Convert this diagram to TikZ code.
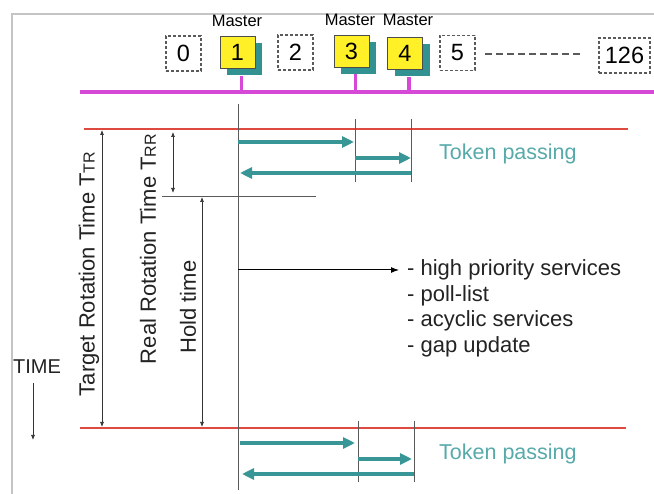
\documentclass[tikz,border=0pt]{standalone}
\usepackage{fontspec}
\setmainfont{Liberation Sans}
\usetikzlibrary{arrows.meta,shadows}
\definecolor{tokenteal}{RGB}{56,150,150}
\definecolor{tokentext}{RGB}{88,170,170}
\definecolor{busmag}{RGB}{214,72,214}
\definecolor{cyclered}{RGB}{222,74,64}
\definecolor{masteryellow}{RGB}{255,240,40}
\definecolor{shadowteal}{RGB}{50,145,145}
\definecolor{framegray}{RGB}{196,196,196}
\definecolor{linegray}{RGB}{90,90,90}
\definecolor{inkgray}{RGB}{35,35,35}

\tikzset{
  slot/.style={draw=linegray, dash pattern=on 3pt off 2pt, line width=1.1pt,
    minimum width=35pt, minimum height=35pt, inner sep=1pt,
    font=\fontsize{23.5}{23.5}\selectfont},
  master/.style={draw=black!70, line width=0.6pt, fill=masteryellow,
    minimum width=35pt, minimum height=32pt, inner sep=1pt,
    font=\fontsize{23.5}{23.5}\selectfont,
    drop shadow={shadow xshift=7pt, shadow yshift=-7pt, fill=shadowteal, opacity=1}},
  masterlabel/.style={font=\fontsize{16.5}{16.5}\selectfont, inner sep=0pt, anchor=base},
  bus/.style={busmag, line width=4pt},
  cycle/.style={cyclered, line width=2.7pt},
  thin/.style={linegray, line width=0.8pt},
  token/.style={tokenteal, line width=3.4pt, -{Triangle[length=12pt,width=11pt]}},
  span/.style={black!80, line width=0.7pt, {Latex[length=5pt,width=4pt]}-{Latex[length=5pt,width=4pt]}},
  lbl/.style={font=\fontsize{22}{22}\selectfont, inner sep=0pt, text=inkgray},
  tokenlbl/.style={font=\fontsize{21.5}{21.5}\selectfont, text=tokentext, inner sep=0pt, anchor=base west}
}
\newcommand{\lowidx}[1]{{\fontsize{16}{16}\selectfont #1}}

\begin{document}
\begin{tikzpicture}[x=1pt,y=-1pt]
  \useasboundingbox[fill=white] (0,0) rectangle (654,494);

  % outer frame
  \draw[framegray, line width=1.8pt] (654,14) -- (12,14) -- (12,494);

  % stations on the bus
  \node[slot]   (s0)   at (183.5,53.5) {0};
  \node[master] (s1)   at (237.5,52.5) {1};
  \node[slot]   (s2)   at (295.5,52.5) {2};
  \node[master] (s3)   at (351.5,51)   {3};
  \node[master] (s4)   at (405,53.5)   {4};
  \node[slot]   (s5)   at (457.5,53)   {5};
  \node[slot, minimum width=51pt] (s126) at (624.5,55.5) {126};
  \coordinate (dl) at (485,54);
  \coordinate (dr) at (583,54);
  \draw[linegray, line width=1.4pt, dash pattern=on 7pt off 4pt] (dl) -- (dr);

  \node[masterlabel] (m1) at (237,27) {Master};
  \node[masterlabel] (m3) at (350,26) {Master};
  \node[masterlabel] (m4) at (408,26) {Master};

  % bus line with drops from the masters
  \coordinate (busL) at (80,92);
  \coordinate (busR) at (654,92);
  \draw[bus] (busL) -- (busR);
  \draw[busmag, line width=3.2pt] ([xshift=4pt,yshift=-7pt]s1.south) -- ([xshift=4pt]s1.south |- busL);
  \draw[busmag, line width=3.2pt] ([xshift=4pt,yshift=-7pt]s3.south) -- ([xshift=4pt]s3.south |- busL);
  \draw[busmag, line width=3.2pt] ([xshift=4pt,yshift=-7pt]s4.south) -- ([xshift=4pt]s4.south |- busL);

  % cycle boundaries
  \coordinate (c1L) at (84,129);  \coordinate (c1R) at (628,129);
  \coordinate (c2L) at (80,428);  \coordinate (c2R) at (626,428);
  \draw[cycle] (c1L) -- (c1R);
  \draw[cycle] (c2L) -- (c2R);

  % time axis of station 1 and the token receiver marks
  \coordinate (vtop) at (238,104);  \coordinate (vbot) at (238,490);
  \draw[thin] (vtop) -- (vbot);
  \coordinate (a3t) at (355,119);  \coordinate (a3b) at (355,182);
  \coordinate (a4t) at (411,119);  \coordinate (a4b) at (411,182);
  \coordinate (b3t) at (358,421);  \coordinate (b3b) at (358,482);
  \coordinate (b4t) at (414,421);  \coordinate (b4b) at (414,482);
  \draw[thin] (a3t) -- (a3b);
  \draw[thin] (a4t) -- (a4b);
  \draw[thin] (b3t) -- (b3b);
  \draw[thin] (b4t) -- (b4b);

  % token passing, first cycle
  \draw[token] (vtop |- 0,142) -- ([xshift=-1pt]a3t |- 0,142);
  \draw[token] (a3t |- 0,158) -- (a4t |- 0,158);
  \draw[token] (a4t |- 0,173) -- ([xshift=2pt]vtop |- 0,173);
  \node[tokenlbl] (tp1) at (439,160) {Token passing};

  % token passing, next cycle
  \draw[token] ([xshift=2pt]vtop |- 0,443) -- ([xshift=-3pt]b3t |- 0,443);
  \draw[token] (b3t |- 0,459) -- ([xshift=-2pt]b4t |- 0,459);
  \draw[token] (b4t |- 0,474) -- ([xshift=4pt]vtop |- 0,474);
  \node[tokenlbl] (tp2) at (439,460) {Token passing};

  % end of the real rotation time
  \coordinate (rrL) at (162,196);  \coordinate (rrR) at (316,196);
  \draw[linegray, line width=0.7pt] (rrL) -- (rrR);

  % time spans
  \draw[span] (102,130) -- (102,427);
  \draw[span] (173,132) -- (173,193);
  \draw[span] (202,197) -- (202,427);
  \node[lbl, rotate=90] (ttr) at (89,274) {Target Rotation Time T\lowidx{TR}};
  \node[lbl, rotate=90] (trr) at (148,249) {Real Rotation Time T\lowidx{RR}};
  \node[lbl, rotate=90] (hold) at (188,307) {Hold time};

  % time direction
  \node[font=\fontsize{20}{20}\selectfont, inner sep=0pt, text=inkgray] (time) at (37,367) {TIME};
  \draw[black!80, line width=0.7pt, -{Latex[length=5pt,width=4pt]}] (33,383) -- (33,440);

  % services during the hold time
  \node[lbl, anchor=base west] (l1) at (407,276) {- high priority services};
  \node[lbl, anchor=base west] (l2) at (407,301.5) {- poll-list};
  \node[lbl, anchor=base west] (l3) at (407,327) {- acyclic services};
  \node[lbl, anchor=base west] (l4) at (407,352.5) {- gap update};
  \draw[black, line width=1pt, -{Latex[length=8pt,width=6pt]}] (vtop |- 0,270) -- ([xshift=-8pt]l1.west |- 0,270);
\end{tikzpicture}
\end{document}
